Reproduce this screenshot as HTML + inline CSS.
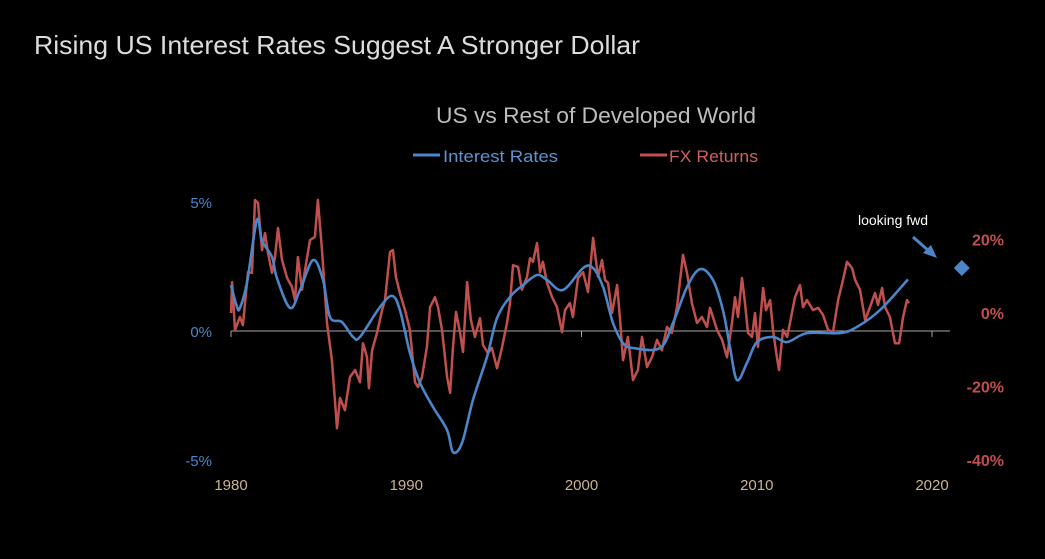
<!DOCTYPE html>
<html><head><meta charset="utf-8"><style>
html,body{margin:0;padding:0;background:#000;}
svg{display:block;font-family:"Liberation Sans",sans-serif;}
</style></head><body>
<svg id="chart" width="1045" height="559" viewBox="0 0 1045 559" xmlns="http://www.w3.org/2000/svg">
<rect width="1045" height="559" fill="#000"/>
<text x="34" y="54" font-size="26" fill="#dcdcdc" textLength="606" lengthAdjust="spacingAndGlyphs">Rising US Interest Rates Suggest A Stronger Dollar</text>
<text x="436" y="123" font-size="22" fill="#bdbdbd" textLength="320" lengthAdjust="spacingAndGlyphs">US vs Rest of Developed World</text>
<g>
<g>
<line x1="413" y1="155" x2="440" y2="155" stroke="#4a86c8" stroke-width="3"/>
<text x="443" y="162" font-size="17" fill="#5b93d3" textLength="115" lengthAdjust="spacingAndGlyphs">Interest Rates</text></g>
<g>
<line x1="640" y1="155" x2="667" y2="155" stroke="#c0504d" stroke-width="3"/>
<text x="669" y="162" font-size="17" fill="#d0605d" textLength="89" lengthAdjust="spacingAndGlyphs">FX Returns</text></g>
</g>
<g id="axes"></g>
<g id="series"></g>
<text x="858" y="225" font-size="14" fill="#ffffff">looking fwd</text>
<g>
<line x1="913" y1="237" x2="930" y2="252" stroke="#4a86c8" stroke-width="3"/>
<polygon points="937,258 923,253 931,245" fill="#4a86c8"/>
</g>
</svg>
<script>
const xTicks=[1980,1990,2000,2010,2020];
const leftTicks=[5,0,-5];
const leftTickLabels=["5%","0%","-5%"];
const rightTicks=[20,0,-20,-40];
const rightTickLabels=["20%","0%","-20%","-40%"];
const rateYears=[1980.0,1980.34,1980.51,1980.91,1981.48,1981.77,1982.34,1982.62,1983.37,1983.94,1984.68,1985.25,1985.65,1986.33,1986.96,1987.36,1988.5,1989.19,1989.64,1990.21,1990.78,1991.53,1992.33,1992.67,1993.18,1993.81,1994.61,1995.18,1995.92,1996.66,1997.46,1998.03,1998.94,2000.09,2000.66,2001.23,2001.8,2002.37,2002.94,2004.48,2005.22,2006.02,2006.76,2007.5,2008.07,2008.47,2008.87,2009.44,2010.01,2010.93,2011.73,2012.87,2014.75,2015.72,2017.03,2018.63];
const rateValues=[1.78,0.93,0.89,1.86,4.3,3.5,2.87,2.05,0.89,1.59,2.75,1.98,0.54,0.35,-0.23,-0.23,0.93,1.36,0.81,-0.85,-2.0,-2.95,-3.84,-4.7,-4.34,-2.67,-1.0,0.5,1.32,1.78,2.17,1.98,1.59,2.44,2.44,1.7,0.31,-0.47,-0.66,-0.66,0.31,1.7,2.4,1.98,0.81,-0.62,-1.9,-1.24,-0.43,-0.23,-0.43,-0.08,-0.08,0.16,0.81,2.0];
const fxYears=[1980.0,1980.06,1980.23,1980.51,1980.68,1980.97,1981.2,1981.37,1981.54,1981.77,1981.94,1982.11,1982.34,1982.51,1982.68,1982.91,1983.2,1983.48,1983.65,1983.82,1984.05,1984.22,1984.51,1984.79,1984.96,1985.19,1985.48,1985.76,1986.05,1986.22,1986.5,1986.79,1987.08,1987.36,1987.53,1987.76,1987.87,1988.05,1988.33,1988.62,1988.79,1989.07,1989.24,1989.41,1989.64,1989.93,1990.21,1990.5,1990.67,1990.9,1991.18,1991.36,1991.64,1991.81,1992.04,1992.33,1992.5,1992.67,1992.84,1993.07,1993.24,1993.47,1993.69,1993.92,1994.21,1994.38,1994.66,1994.89,1995.18,1995.46,1995.75,1995.92,1996.09,1996.38,1996.6,1996.89,1997.06,1997.23,1997.46,1997.63,1997.8,1998.03,1998.32,1998.6,1998.89,1999.06,1999.34,1999.51,1999.8,2000.09,2000.37,2000.66,2000.94,2001.17,2001.34,2001.51,2001.74,2002.03,2002.2,2002.37,2002.65,2002.94,2003.22,2003.45,2003.74,2004.02,2004.31,2004.59,2004.88,2005.16,2005.45,2005.79,2006.02,2006.3,2006.59,2006.87,2007.16,2007.33,2007.73,2008.02,2008.3,2008.59,2008.76,2008.93,2009.16,2009.33,2009.5,2009.73,2009.9,2010.07,2010.36,2010.53,2010.76,2010.93,2011.15,2011.27,2011.5,2011.73,2011.9,2012.18,2012.47,2012.64,2012.87,2013.21,2013.5,2013.78,2014.07,2014.35,2014.64,2014.92,2015.15,2015.44,2015.61,2015.89,2016.18,2016.46,2016.75,2016.92,2017.15,2017.32,2017.6,2017.89,2018.12,2018.35,2018.57,2018.69];
const fxValues=[0,8.4,-4.6,-1.1,-3.3,11.1,10.9,30.7,29.9,17.1,21.7,16.3,10.9,15.2,23.1,14.4,9.5,7.1,3.5,15.2,6.3,11.7,19.8,20.7,30.7,17.1,-2.7,-12.8,-31.3,-23.1,-26.4,-17.4,-15.5,-18.8,-8.2,-12.0,-20.4,-10.1,-5.4,0.8,3.5,16.6,17.1,9.8,5.4,0.8,-4.6,-18.8,-20.1,-17.4,-9.2,1.6,4.3,1.6,-4.6,-17.4,-21.7,-9.2,0.3,-5.4,-10.6,8.4,-1.9,-6.5,-1.4,-8.7,-10.9,-9.5,-15.0,-9.5,-2.7,2.7,13.0,12.5,6.3,9.8,14.9,13.9,19.0,11.1,13.9,8.2,4.3,1.6,-5.2,0.8,2.7,-1.1,9.5,11.1,5.7,20.4,9.8,14.4,9.0,8.2,0,7.6,-1.9,-12.8,-6.5,-18.2,-15.5,-6.5,-14.7,-12.0,-7.3,-10.1,-3.8,-5.4,1.6,15.8,10.9,2.7,-2.7,-1.1,-3.8,1.4,-4.6,-7.3,-12.0,-2.7,4.3,-1.1,9.5,2.7,-5.4,-6.5,0,-9.2,6.8,0.8,3.5,-4.6,-12.0,-15.5,-4.6,-6.5,-2.7,4.3,7.6,1.6,3.5,0.8,1.4,-0.5,-4.6,-5.2,3.5,9.0,13.9,12.2,9.0,6.3,-1.9,1.6,5.4,2.2,6.8,1.6,-1.1,-8.2,-8.2,-1.1,3.5,2.7];
const forecastYear=[2021.7];
const forecastRate=[2.44];

const NS="http://www.w3.org/2000/svg";
function x(yr){return 231+(yr-1980)*17.525;}
function yL(v){return 331-v*25.8;}
function yR(v){return 313-v*3.68;}
function mk(tag,attrs,parent){const e=document.createElementNS(NS,tag);for(const k in attrs)e.setAttribute(k,attrs[k]);parent.appendChild(e);return e;}
function smooth(pts){
  let d='M'+pts[0][0].toFixed(1)+','+pts[0][1].toFixed(1);
  for(let i=0;i<pts.length-1;i++){
    const p0=pts[Math.max(0,i-1)],p1=pts[i],p2=pts[i+1],p3=pts[Math.min(pts.length-1,i+2)];
    const c1x=p1[0]+(p2[0]-p0[0])/6,c1y=p1[1]+(p2[1]-p0[1])/6;
    const c2x=p2[0]-(p3[0]-p1[0])/6,c2y=p2[1]-(p3[1]-p1[1])/6;
    d+='C'+c1x.toFixed(1)+','+c1y.toFixed(1)+' '+c2x.toFixed(1)+','+c2y.toFixed(1)+' '+p2[0].toFixed(1)+','+p2[1].toFixed(1);
  }
  return d;
}
const axes=document.getElementById('axes'),series=document.getElementById('series');
const axisLine=mk('line',{x1:231,y1:331,x2:950,y2:331,stroke:'#a6a6a6','stroke-width':1},axes);


xTicks.forEach(t=>{
  const tk=mk('line',{x1:x(t),y1:331,x2:x(t),y2:337,stroke:'#a6a6a6','stroke-width':1},axes);
  
  
  const lb=mk('text',{x:x(t),y:490,'font-size':15,fill:'#c9b491','text-anchor':'middle'},axes);
  lb.textContent=t;
  
  
});
leftTicks.forEach((t,i)=>{
  const lb=mk('text',{x:212,y:yL(t)+6,'font-size':15,fill:'#4a86c8','text-anchor':'end'},axes);
  lb.textContent=leftTickLabels[i];
  
  
});
rightTicks.forEach((t,i)=>{
  const lb=mk('text',{x:1004,y:yR(t)+6,'font-size':16,'font-weight':'bold',fill:'#c0504d','text-anchor':'end'},axes);
  lb.textContent=rightTickLabels[i];
  
  
});
const fxPath=mk('path',{d:fxYears.map((t,i)=>(i?'L':'M')+x(t).toFixed(1)+','+yR(fxValues[i]).toFixed(1)).join(''),fill:'none',stroke:'#c0504d','stroke-width':2.5,'stroke-linejoin':'round'},series);


const ratePath=mk('path',{d:smooth(rateYears.map((t,i)=>[x(t),yL(rateValues[i])])),fill:'none',stroke:'#4a86c8','stroke-width':2.6,'stroke-linejoin':'round'},series);


forecastYear.forEach((t,i)=>{
  const cx=x(t),cy=yL(forecastRate[i]);
  const d=mk('polygon',{points:`${cx},${cy-8} ${cx+8},${cy} ${cx},${cy+8} ${cx-8},${cy}`,fill:'#4a86c8'},series);
  
  
});
</script>
</body></html>
